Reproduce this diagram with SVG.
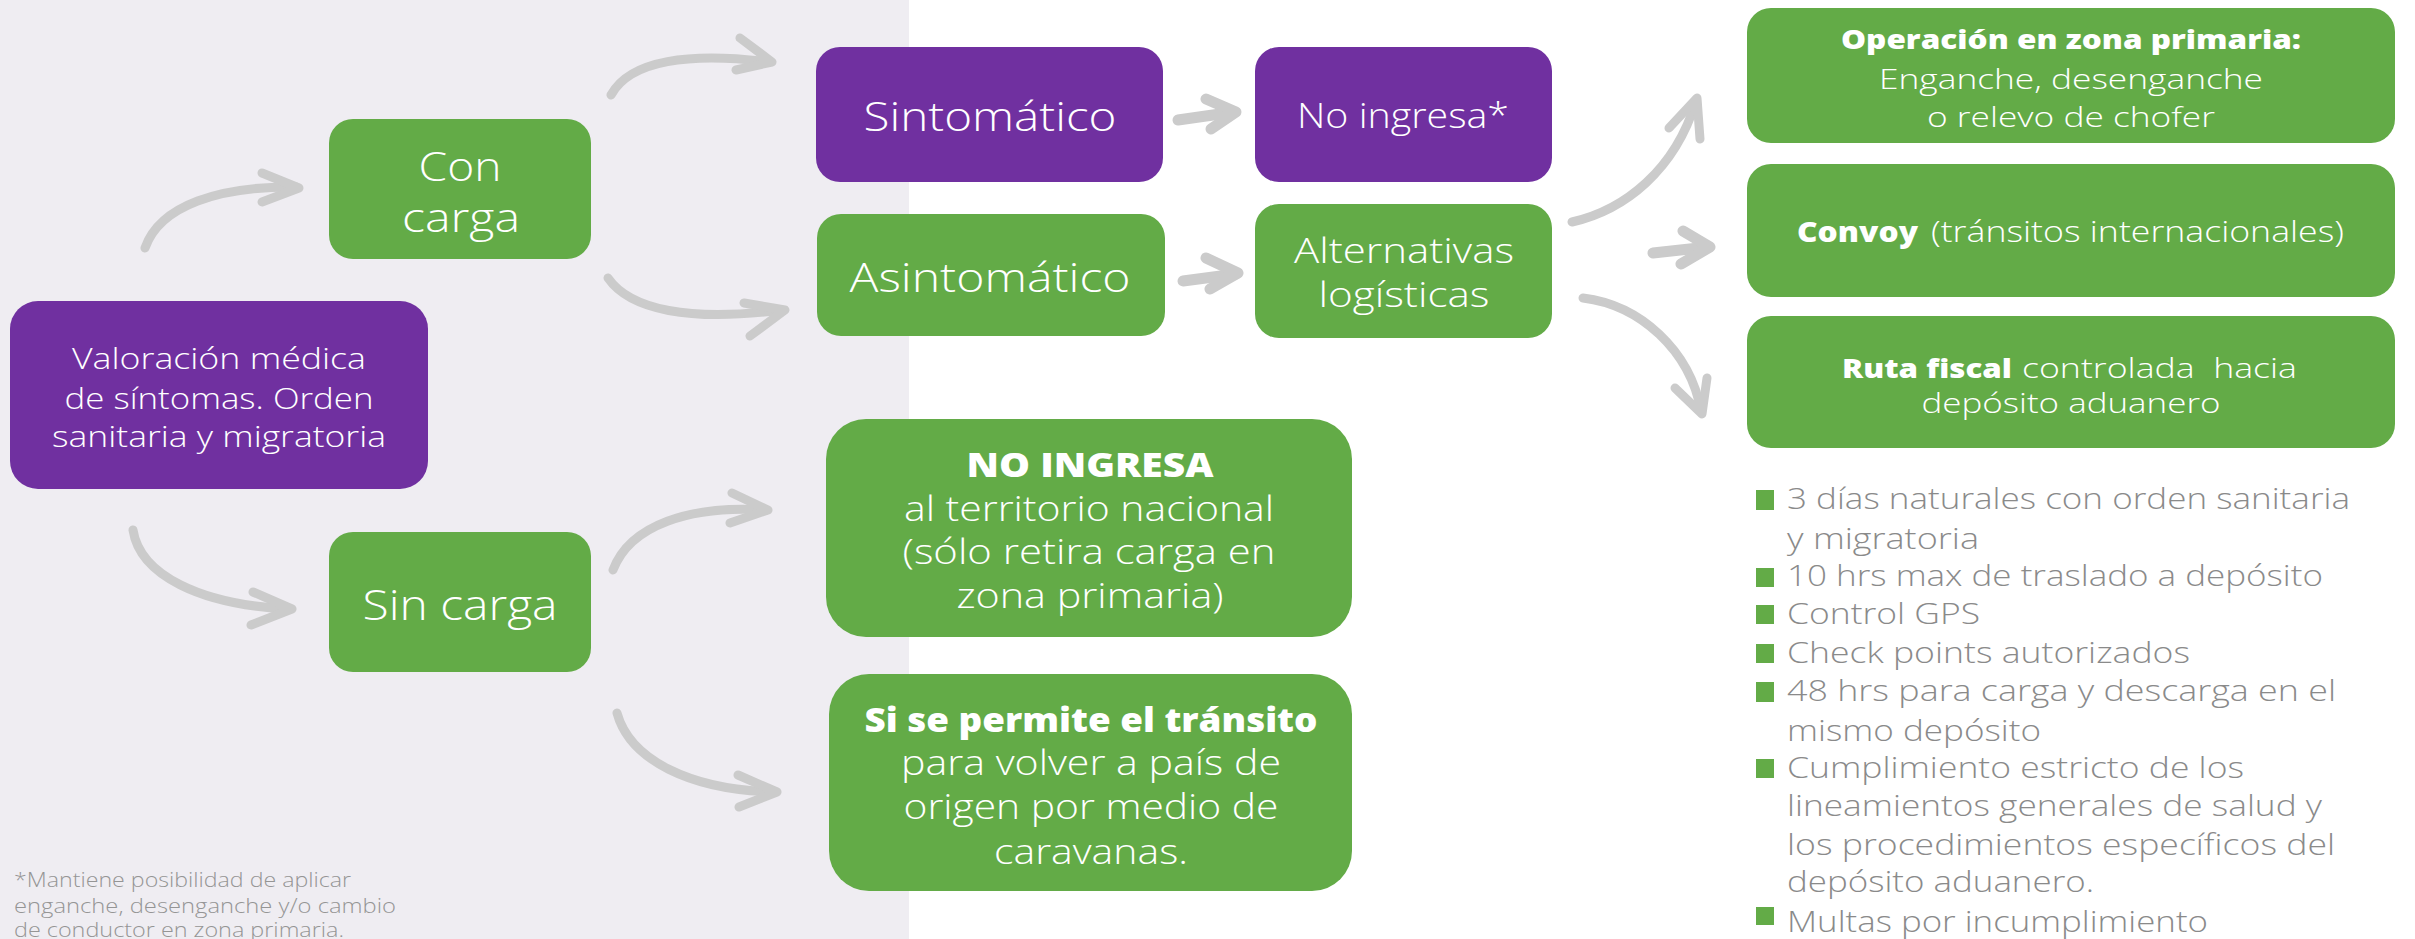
<svg xmlns="http://www.w3.org/2000/svg" width="2415" height="939" viewBox="0 0 2415 939">
<style>
.bg{fill:#ffffff}
.panel{fill:#efedf2}
.p{fill:#7030a0}
.g{fill:#63ab47}
.t{font-family:"Open Sans","Noto Sans","Liberation Sans",sans-serif;font-weight:300;fill:#ffffff;text-anchor:middle}
.tb{font-family:"Open Sans","Noto Sans","Liberation Sans",sans-serif;font-weight:800;fill:#ffffff;text-anchor:middle}
.s{text-anchor:start}
.li{font-family:"Open Sans","Noto Sans","Liberation Sans",sans-serif;font-weight:300;fill:#8a8a8a;font-size:30px}
.fn{font-family:"Open Sans","Noto Sans","Liberation Sans",sans-serif;font-weight:300;fill:#959595;font-size:20px}
.bul{fill:#63ab47}
.arr{fill:none;stroke:#cbcbcb;stroke-width:9;stroke-linecap:round;stroke-linejoin:round}
.arrs{fill:none;stroke:#cbcbcb;stroke-width:11;stroke-linecap:round;stroke-linejoin:round}
</style>
<rect class="bg" x="0" y="0" width="2415" height="939"/>
<rect class="panel" x="0" y="0" width="909" height="939"/>

<g id="connectors">
  <path class="arr" d="M145,248 C160,205 220,186 296,187"/>
  <path class="arr" d="M262,173 L299,188 L262,202"/>
  <path class="arr" d="M611,95 C630,60 690,52 769,62"/>
  <path class="arr" d="M740,38 L772,62 L736,70"/>
  <path class="arr" d="M608,278 C630,310 690,322 782,310"/>
  <path class="arr" d="M744,303 L785,310 L750,336"/>
  <path class="arr" d="M133,530 C140,575 200,605 290,609"/>
  <path class="arr" d="M253,592 L292,609 L251,625"/>
  <path class="arr" d="M613,570 C630,525 690,505 766,510"/>
  <path class="arr" d="M732,493 L768,510 L730,523"/>
  <path class="arr" d="M617,713 C630,760 690,790 775,792"/>
  <path class="arr" d="M738,775 L777,792 L739,807"/>
  <path class="arrs" d="M1178,120 L1234,112"/>
  <path class="arrs" d="M1206,99 L1236,112 L1211,129"/>
  <path class="arrs" d="M1183,281 L1236,274"/>
  <path class="arrs" d="M1206,258 L1238,273 L1210,289"/>
  <path class="arr" d="M1572,222 C1625,210 1675,170 1696,101"/>
  <path class="arr" d="M1669,128 L1697,98 L1700,139"/>
  <path class="arrs" d="M1653,253 L1708,247"/>
  <path class="arrs" d="M1683,231 L1710,247 L1681,264"/>
  <path class="arr" d="M1583,298 C1640,305 1690,350 1701,411"/>
  <path class="arr" d="M1675,388 L1702,414 L1707,378"/>
</g>

<g id="valoracion">
  <rect class="p" x="10" y="301" width="418" height="188" rx="28"/>
  <text class="t" x="219" y="369" font-size="29" textLength="294" lengthAdjust="spacingAndGlyphs">Valoración médica</text>
  <text class="t" x="219" y="409" font-size="29" textLength="309" lengthAdjust="spacingAndGlyphs">de síntomas. Orden</text>
  <text class="t" x="219" y="447" font-size="29" textLength="334" lengthAdjust="spacingAndGlyphs">sanitaria y migratoria</text>
</g>

<g id="con-carga">
  <rect class="g" x="329" y="119" width="262" height="140" rx="24"/>
  <text class="t" x="460" y="181" font-size="41" textLength="83" lengthAdjust="spacingAndGlyphs">Con</text>
  <text class="t" x="461" y="232" font-size="41" textLength="118" lengthAdjust="spacingAndGlyphs">carga</text>
</g>

<g id="sin-carga">
  <rect class="g" x="329" y="532" width="262" height="140" rx="24"/>
  <text class="t" x="460" y="620" font-size="42" textLength="195" lengthAdjust="spacingAndGlyphs">Sin carga</text>
</g>

<g id="sintomatico">
  <rect class="p" x="816" y="47" width="347" height="135" rx="24"/>
  <text class="t" x="990" y="131" font-size="40" textLength="253" lengthAdjust="spacingAndGlyphs">Sintomático</text>
</g>

<g id="no-ingresa">
  <rect class="p" x="1255" y="47" width="297" height="135" rx="24"/>
  <text class="t" x="1403" y="128" font-size="35" textLength="212" lengthAdjust="spacingAndGlyphs">No ingresa*</text>
</g>

<g id="asintomatico">
  <rect class="g" x="817" y="214" width="348" height="122" rx="24"/>
  <text class="t" x="990" y="292" font-size="40" textLength="281" lengthAdjust="spacingAndGlyphs">Asintomático</text>
</g>

<g id="alternativas">
  <rect class="g" x="1255" y="204" width="297" height="134" rx="24"/>
  <text class="t" x="1404" y="263" font-size="35" textLength="220" lengthAdjust="spacingAndGlyphs">Alternativas</text>
  <text class="t" x="1404" y="307" font-size="35" textLength="171" lengthAdjust="spacingAndGlyphs">logísticas</text>
</g>

<g id="no-ingresa-territorio">
  <rect class="g" x="826" y="419" width="526" height="218" rx="40"/>
  <text class="tb" x="1090" y="477" font-size="34" textLength="247" lengthAdjust="spacingAndGlyphs">NO INGRESA</text>
  <text class="t" x="1089" y="521" font-size="34" textLength="370" lengthAdjust="spacingAndGlyphs">al territorio nacional</text>
  <text class="t" x="1089" y="564" font-size="34" textLength="373" lengthAdjust="spacingAndGlyphs">(sólo retira carga en</text>
  <text class="t" x="1090" y="608" font-size="34" textLength="267" lengthAdjust="spacingAndGlyphs">zona primaria)</text>
</g>

<g id="si-se-permite">
  <rect class="g" x="829" y="674" width="523" height="217" rx="40"/>
  <text class="tb" x="1091" y="732" font-size="33" textLength="453" lengthAdjust="spacingAndGlyphs">Si se permite el tránsito</text>
  <text class="t" x="1091" y="775" font-size="34" textLength="380" lengthAdjust="spacingAndGlyphs">para volver a país de</text>
  <text class="t" x="1091" y="819" font-size="34" textLength="375" lengthAdjust="spacingAndGlyphs">origen por medio de</text>
  <text class="t" x="1091" y="864" font-size="34" textLength="194" lengthAdjust="spacingAndGlyphs">caravanas.</text>
</g>

<g id="operacion">
  <rect class="g" x="1747" y="8" width="648" height="135" rx="24"/>
  <text class="tb" x="2071" y="49" font-size="26" textLength="460" lengthAdjust="spacingAndGlyphs">Operación en zona primaria:</text>
  <text class="t" x="2071" y="89" font-size="27" textLength="384" lengthAdjust="spacingAndGlyphs">Enganche, desenganche</text>
  <text class="t" x="2071" y="127" font-size="27" textLength="288" lengthAdjust="spacingAndGlyphs">o relevo de chofer</text>
</g>

<g id="convoy">
  <rect class="g" x="1747" y="164" width="648" height="133" rx="24"/>
  <text class="tb s" x="1797" y="242" font-size="29" textLength="121" lengthAdjust="spacingAndGlyphs">Convoy</text>
  <text class="t s" x="1931" y="242" font-size="29" textLength="413" lengthAdjust="spacingAndGlyphs">(tránsitos internacionales)</text>
</g>

<g id="ruta-fiscal">
  <rect class="g" x="1747" y="316" width="648" height="132" rx="24"/>
  <text class="tb s" x="1842" y="378" font-size="27" textLength="170" lengthAdjust="spacingAndGlyphs">Ruta fiscal</text>
  <text class="t s" x="2022" y="378" font-size="27" textLength="275" lengthAdjust="spacingAndGlyphs">controlada&#160; hacia</text>
  <text class="t" x="2071" y="413" font-size="27" textLength="299" lengthAdjust="spacingAndGlyphs">depósito aduanero</text>
</g>

<g id="lista">
  <rect class="bul" x="1756" y="490" width="18" height="20"/>
  <rect class="bul" x="1756" y="568" width="18" height="19"/>
  <rect class="bul" x="1756" y="605" width="18" height="19"/>
  <rect class="bul" x="1756" y="644" width="18" height="19"/>
  <rect class="bul" x="1756" y="682" width="18" height="20"/>
  <rect class="bul" x="1756" y="759" width="18" height="19"/>
  <rect class="bul" x="1756" y="907" width="18" height="18"/>
  <text class="li" x="1787" y="509" textLength="563" lengthAdjust="spacingAndGlyphs">3 días naturales con orden sanitaria</text>
  <text class="li" x="1787" y="549" textLength="192" lengthAdjust="spacingAndGlyphs">y migratoria</text>
  <text class="li" x="1787" y="586" textLength="536" lengthAdjust="spacingAndGlyphs">10 hrs max de traslado a depósito</text>
  <text class="li" x="1787" y="624" textLength="193" lengthAdjust="spacingAndGlyphs">Control GPS</text>
  <text class="li" x="1787" y="663" textLength="403" lengthAdjust="spacingAndGlyphs">Check points autorizados</text>
  <text class="li" x="1787" y="701" textLength="549" lengthAdjust="spacingAndGlyphs">48 hrs para carga y descarga en el</text>
  <text class="li" x="1787" y="741" textLength="254" lengthAdjust="spacingAndGlyphs">mismo depósito</text>
  <text class="li" x="1787" y="778" textLength="457" lengthAdjust="spacingAndGlyphs">Cumplimiento estricto de los</text>
  <text class="li" x="1787" y="816" textLength="535" lengthAdjust="spacingAndGlyphs">lineamientos generales de salud y</text>
  <text class="li" x="1787" y="855" textLength="548" lengthAdjust="spacingAndGlyphs">los procedimientos específicos del</text>
  <text class="li" x="1787" y="892" textLength="307" lengthAdjust="spacingAndGlyphs">depósito aduanero.</text>
  <text class="li" x="1787" y="932" textLength="421" lengthAdjust="spacingAndGlyphs">Multas por incumplimiento</text>
</g>

<g id="nota">
  <text class="fn" x="14" y="887" textLength="337" lengthAdjust="spacingAndGlyphs">*Mantiene posibilidad de aplicar</text>
  <text class="fn" x="14" y="913" textLength="382" lengthAdjust="spacingAndGlyphs">enganche, desenganche y/o cambio</text>
  <text class="fn" x="14" y="937" textLength="330" lengthAdjust="spacingAndGlyphs">de conductor en zona primaria.</text>
</g>
</svg>
